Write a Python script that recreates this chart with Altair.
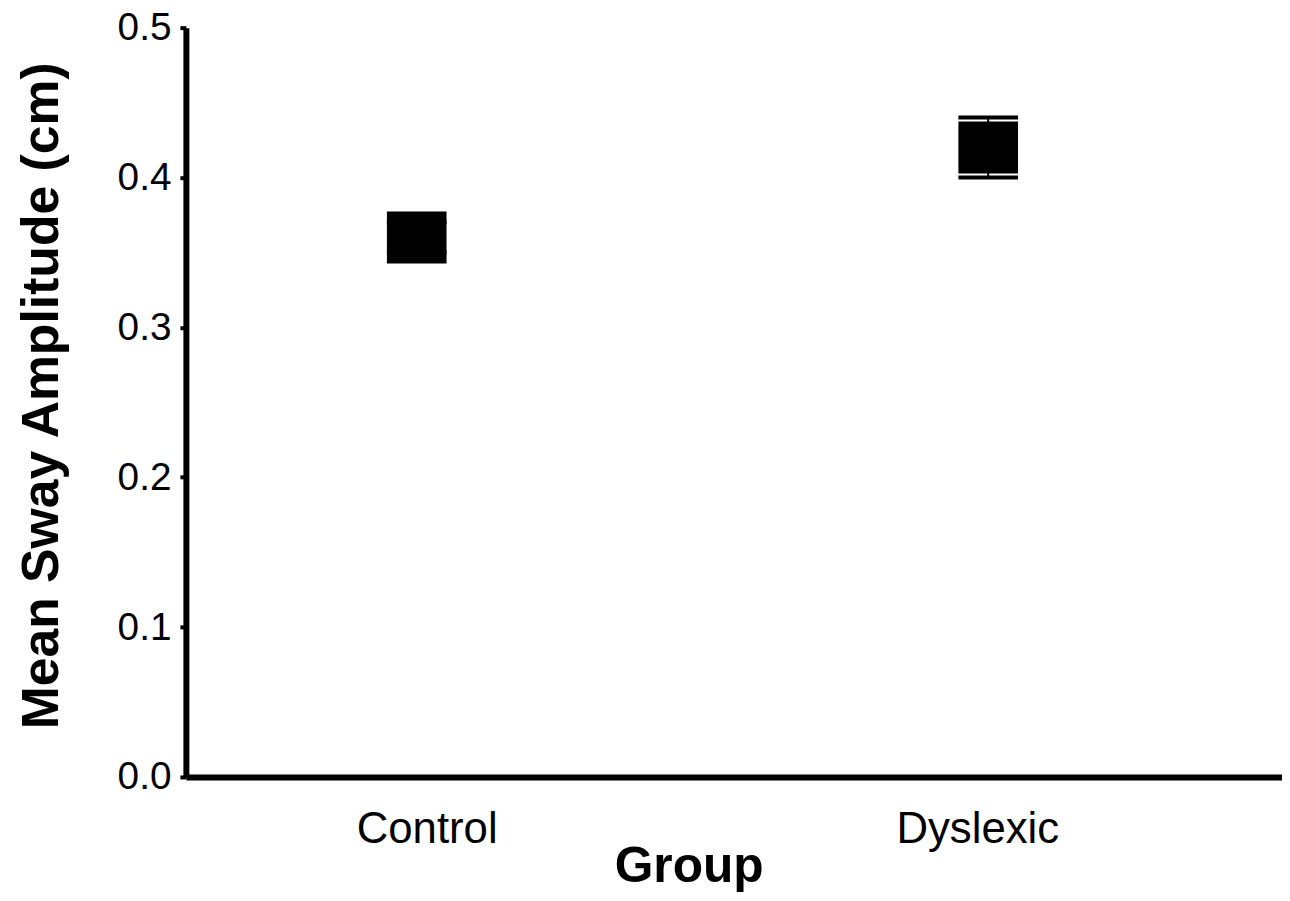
import altair as alt
import pandas as pd

groups = ["Control", "Dyslexic"]
means = [0.36, 0.42]
lower = [0.35, 0.40]
upper = [0.37, 0.44]
yticks = [0.0, 0.1, 0.2, 0.3, 0.4, 0.5]

df = pd.DataFrame({"Group": groups, "mean": means, "lo": lower, "hi": upper})

xscale = alt.Scale(type="point", domain=groups, padding=0.459, align=0.44)
yscale = alt.Scale(domain=[0, 0.5], nice=False, zero=True)

xaxis = alt.Axis(
    title="Group", ticks=False, tickSize=0, labelPadding=66,
    labelBaseline="alphabetic", labelFontSize=44, labelAngle=0,
    labelOffset={"condition": {"test": "datum.value == 'Control'", "value": 10}, "value": -11},
    titleFontSize=50, titleFontWeight="bold", titleX=506, titleY=105,
    titleBaseline="alphabetic", titleAlign="center", grid=False,
)
yaxis = alt.Axis(
    title="Mean Sway Amplitude (cm)", values=yticks, format=".1f",
    tickSize=6, tickWidth=4, labelPadding=9, labelFontSize=39, grid=False,
    titleFontSize=52, titleFontWeight="bold", titleAngle=270, titleX=-129,
    titleY=370, titleAlign="center", titleBaseline="alphabetic",
)

base = alt.Chart(df)
X = alt.X("Group:N", scale=xscale, axis=xaxis, sort=groups)

squares = base.mark_point(
    shape="M-1,-0.87L1,-0.87L1,0.87L-1,0.87Z", size=3600, filled=True,
    color="black", opacity=1, strokeWidth=0,
).encode(
    x=X,
    y=alt.Y("mean:Q", scale=yscale, axis=yaxis),
)

stems = base.mark_rule(color="black", strokeWidth=2).encode(
    x=X,
    y=alt.Y("lo:Q", scale=yscale, axis=yaxis),
    y2="hi:Q",
)

caps_lo = base.mark_tick(color="black", size=60, thickness=4, opacity=1).encode(
    x=X,
    y=alt.Y("lo:Q", scale=yscale, axis=yaxis),
)
caps_hi = base.mark_tick(color="black", size=60, thickness=4, opacity=1).encode(
    x=X,
    y=alt.Y("hi:Q", scale=yscale, axis=yaxis),
)

chart = alt.layer(squares, stems, caps_lo, caps_hi).properties(
    width=1103, height=754,
    autosize=alt.AutoSizeParams(type="none"),
    padding={"left": 179, "top": 17, "right": 0, "bottom": 114},
).configure_view(stroke=None).configure_axis(
    domainColor="black", domainWidth=6, tickColor="black",
    labelColor="black", titleColor="black",
    labelFont="Liberation Sans", titleFont="Liberation Sans",
)

chart.save("out.html", embed_options={"renderer": "svg", "actions": False})
